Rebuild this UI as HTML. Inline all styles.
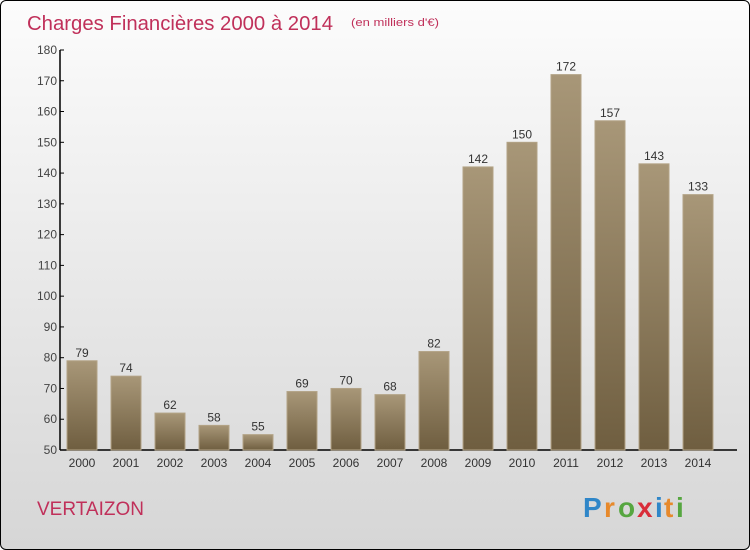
<!DOCTYPE html>
<html><head><meta charset="utf-8"><style>
body{margin:0;}
#c{position:relative;width:748px;height:548px;border:1px solid #000;border-radius:6px;overflow:hidden;background:linear-gradient(#fcfcfc,#d6d6d6);font-family:"Liberation Sans",sans-serif;}
</style></head><body>
<div id="c">
<svg id="s" width="748" height="548" xmlns="http://www.w3.org/2000/svg">
<defs><linearGradient id="g" x1="0" y1="0" x2="0" y2="1"><stop offset="0" stop-color="#a89778"/><stop offset="1" stop-color="#6f5e40"/></linearGradient></defs>
<text x="26" y="29" font-size="20" textLength="306" lengthAdjust="spacingAndGlyphs" fill="#c0305a">Charges Financières 2000 à 2014</text>
<text x="350" y="25" font-size="11" textLength="88" lengthAdjust="spacingAndGlyphs" fill="#c0305a">(en milliers d'€)</text>
<text x="36" y="514" font-size="19" fill="#c0305a">VERTAIZON</text>
<g font-size="28" font-weight="bold">
<text x="582" y="516" fill="#2f86c8">P</text><text x="603" y="516" fill="#e7892b">r</text><text x="617" y="516" fill="#56a640">o</text><text x="636" y="516" fill="#d92d3a">x</text><text x="654" y="516" fill="#2f86c8">i</text><text x="663" y="516" fill="#e7892b">t</text><text x="675" y="516" fill="#56a640">i</text>
</g>
<g id="ax"></g><g id="bars"></g>
</svg></div>
<script>
const years=["2000","2001","2002","2003","2004","2005","2006","2007","2008","2009","2010","2011","2012","2013","2014"];
const values=[79,74,62,58,55,69,70,68,82,142,150,172,157,143,133];
const ticks=[50,60,70,80,90,100,110,120,130,140,150,160,170,180];
const NS="http://www.w3.org/2000/svg";
const y0=449,y1=49,vmin=50,vmax=180;
const Y=v=>y0-(v-vmin)/(vmax-vmin)*(y0-y1);
const X=i=>81+i*44;
function el(t,a,p){const e=document.createElementNS(NS,t);for(const k in a)e.setAttribute(k,a[k]);p.appendChild(e);return e;}
const ax=document.getElementById('ax'),bg=document.getElementById('bars');
const yl=el('line',{x1:59,y1:y1,x2:59,y2:y0,stroke:'#000','stroke-width':1.5},ax);


const xl=el('line',{x1:59,y1:y0,x2:736,y2:y0,stroke:'#000','stroke-width':1.5},ax);


ticks.forEach(t=>{
 el('line',{x1:59,y1:Y(t),x2:63,y2:Y(t),stroke:'#000'},ax);
 const tx=el('text',{x:56,y:Y(t)+4,'font-size':12,fill:'#444','text-anchor':'end'},ax);tx.textContent=t;
 
 
});
years.forEach((yr,i)=>{
 const v=values[i],cx=X(i);
 const r=el('rect',{x:cx-15,y:Y(v),width:30,height:y0-Y(v),fill:'url(#g)',stroke:'#b3a386','stroke-width':1},bg);
 
 
 const vl=el('text',{x:cx,y:Y(v)-4,'font-size':12,fill:'#333','text-anchor':'middle'},bg);vl.textContent=v;
 
 
 const xl2=el('text',{x:cx,y:466,'font-size':12,fill:'#333','text-anchor':'middle'},bg);xl2.textContent=yr;
 
 
});
</script></body></html>
